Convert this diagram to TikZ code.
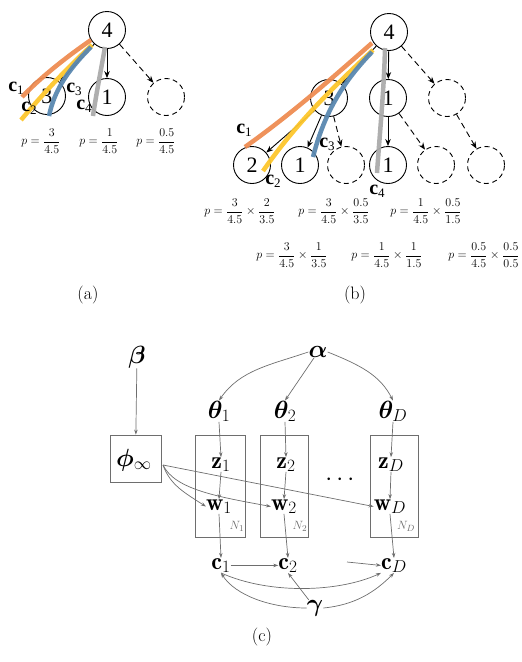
\documentclass[tikz,border=0pt]{standalone}
\usepackage{amsmath,bm}
\usepackage{fontspec}
\newfontfamily\tnr{Liberation Serif}
\usetikzlibrary{arrows.meta}
\definecolor{corange}{HTML}{EE8C52}
\definecolor{cyellow}{HTML}{FDC62C}
\definecolor{cblue}{HTML}{5A88B0}
\definecolor{cgray}{HTML}{ABABAB}
\definecolor{lgray}{HTML}{6E6E6E}
\newcommand\clabtxt[1]{c\raisebox{-0.35ex}{\mdseries\fontsize{13}{13}\selectfont #1}}
\begin{document}
\begin{tikzpicture}[x=1pt,y=-1pt,
  tnode/.style={circle,draw,line width=0.9pt,minimum size=37pt,inner sep=0pt,font=\tnr\fontsize{22}{22}\selectfont},
  dnode/.style={tnode,dash pattern=on 5pt off 3.5pt},
  tarrow/.style={-{Stealth[length=7pt,width=5.5pt]},line width=0.9pt},
  darrow/.style={tarrow,dash pattern=on 6pt off 4pt},
  hl/.style={line width=4.5pt,opacity=0.95},
  clab/.style={inner sep=0pt,font=\tnr\fontsize{20}{20}\selectfont\bfseries},
  plab/.style={inner sep=0pt,font=\fontsize{12.5}{14}\selectfont},
  captext/.style={inner sep=0pt,font=\fontsize{18}{20}\selectfont},
  sym/.style={inner sep=0pt,font=\fontsize{24}{27}\selectfont},
  garrow/.style={-{Stealth[length=5pt,width=3.5pt]},draw=lgray,line width=0.7pt},
  gbox/.style={draw=lgray,line width=0.8pt,inner sep=0pt}
]
\useasboundingbox (0,0) rectangle (522,662);

% ---------------- (a)
\node[tnode] (a4) at (107,30) {4};
\node[tnode] (a3) at (47,96) {3};
\node[tnode] (a1) at (107,97) {1};
\node[dnode] (ad) at (166,97) {};
\draw[tarrow] (a4) -- (a3);
\draw[tarrow] (a4) -- (a1);
\draw[darrow] (a4) -- (ad);
\coordinate (ao1) at (91,40); \coordinate (ao2) at (22,97);
\coordinate (ay1) at (92,45); \coordinate (ay2) at (21,120);
\coordinate (ab1) at (91,47); \coordinate (ab2) at (49,116);
\coordinate (ag1) at (105,47); \coordinate (ag2) at (93,116);
\draw[hl,draw=cgray] (ag1) .. controls (101,70) and (96,95) .. (ag2);
\draw[hl,draw=corange] (ao1) .. controls (65,58) and (40,78) .. (ao2);
\draw[hl,draw=cyellow] (ay1) .. controls (65,70) and (42,95) .. (ay2);
\draw[hl,draw=cblue] (ab1) .. controls (66,72) and (54,92) .. (ab2);
\node[clab] (ac1) at (16,88) {\clabtxt{1}};
\node[clab] (ac2) at (29,108) {\clabtxt{2}};
\node[clab] (ac3) at (74,89) {\clabtxt{3}};
\node[clab] (ac4) at (84,106) {\clabtxt{4}};
\node[plab] (ap1) at (41,141) {$\displaystyle p=\frac{3}{4.5}$};
\node[plab] (ap2) at (99,141) {$\displaystyle p=\frac{1}{4.5}$};
\node[plab] (ap3) at (156,141) {$\displaystyle p=\frac{0.5}{4.5}$};
\node[captext] (capa) at (88,295) {(a)};

% ---------------- (b)
\node[tnode] (b4) at (389,32) {4};
\node[tnode] (b3) at (329,98) {3};
\node[tnode] (b1) at (388,98) {1};
\node[dnode] (bd) at (447,98) {};
\node[tnode] (b2l) at (252,165) {2};
\node[tnode] (b1l) at (300,165) {1};
\node[dnode] (bdl) at (346,165) {};
\node[tnode] (b1m) at (388,165) {1};
\node[dnode] (bdm) at (436,165) {};
\node[dnode] (bdr) at (486,165) {};
\draw[tarrow] (b4) -- (b3);
\draw[tarrow] (b4) -- (b1);
\draw[darrow] (b4) -- (bd);
\draw[tarrow] (b3) -- (b2l);
\draw[tarrow] (b3) -- (b1l);
\draw[darrow] (b3) -- (bdl);
\draw[tarrow] (b1) -- (b1m);
\draw[darrow] (b1) -- (bdm);
\draw[darrow] (bd) -- (bdr);
\coordinate (bo1) at (372,43); \coordinate (bo2) at (245,147);
\coordinate (by1) at (373,50); \coordinate (by2) at (263,171);
\coordinate (bb1) at (372,52); \coordinate (bb2) at (313,157);
\coordinate (bg1) at (385,48); \coordinate (bg2) at (377,173);
\draw[hl,draw=cgray] (bg1) .. controls (384,90) and (380,130) .. (bg2);
\draw[hl,draw=corange] (bo1) .. controls (330,80) and (290,115) .. (bo2);
\draw[hl,draw=cyellow] (by1) .. controls (330,90) and (295,125) .. (by2);
\draw[hl,draw=cblue] (bb1) .. controls (345,80) and (325,110) .. (bb2);
\node[clab] (bc1) at (244,130) {\clabtxt{1}};
\node[clab] (bc2) at (273,181) {\clabtxt{2}};
\node[clab] (bc3) at (327,144) {\clabtxt{3}};
\node[clab] (bc4) at (377,191) {\clabtxt{4}};
\node[plab] (bp1) at (240,211) {$\displaystyle p=\frac{3}{4.5}\times\frac{2}{3.5}$};
\node[plab] (bp2) at (334,211) {$\displaystyle p=\frac{3}{4.5}\times\frac{0.5}{3.5}$};
\node[plab] (bp3) at (426,211) {$\displaystyle p=\frac{1}{4.5}\times\frac{0.5}{1.5}$};
\node[plab] (bp4) at (292,255) {$\displaystyle p=\frac{3}{4.5}\times\frac{1}{3.5}$};
\node[plab] (bp5) at (387,255) {$\displaystyle p=\frac{1}{4.5}\times\frac{1}{1.5}$};
\node[plab] (bp6) at (484,255) {$\displaystyle p=\frac{0.5}{4.5}\times\frac{0.5}{0.5}$};
\node[captext] (capb) at (355,295) {(b)};

% ---------------- (c)
\node[sym] (beta) at (137,357) {$\bm\beta$};
\node[sym] (alpha) at (318,352) {$\bm\alpha$};
\node[sym,anchor=base] (th1) at (219,418) {$\bm\theta_1$};
\node[sym,anchor=base] (th2) at (285,418) {$\bm\theta_2$};
\node[sym,anchor=base] (thD) at (393,418) {$\bm\theta_D$};
\node[gbox,minimum width=51pt,minimum height=47pt] (phi) at (135.5,458.5) {};
\node[sym,anchor=base] (phil) at (134,466) {$\bm\phi_\infty$};
\node[gbox,minimum width=50pt,minimum height=102pt] (pl1) at (220,486) {};
\node[gbox,minimum width=48pt,minimum height=102pt] (pl2) at (284,486) {};
\node[gbox,minimum width=48pt,minimum height=102pt] (plD) at (394,486) {};
\node[sym,anchor=base] (z1) at (221,468) {$\mathbf{z}_1$};
\node[sym,anchor=base] (z2) at (286,468) {$\mathbf{z}_2$};
\node[sym,anchor=base] (zD) at (391,468) {$\mathbf{z}_D$};
\node[sym,anchor=base] (w1) at (219,510) {$\mathbf{w}_1$};
\node[sym,anchor=base] (w2) at (284,510) {$\mathbf{w}_2$};
\node[sym,anchor=base] (wD) at (390,510) {$\mathbf{w}_D$};
\node[inner sep=0pt,font=\fontsize{13}{13}\selectfont,text=lgray] (N1) at (237,526) {$N_1$};
\node[inner sep=0pt,font=\fontsize{13}{13}\selectfont,text=lgray] (N2) at (300,526) {$N_2$};
\node[inner sep=0pt,font=\fontsize{13}{13}\selectfont,text=lgray] (ND) at (406,526) {$N_D$};
\node[sym] (dots) at (342,480) {$\cdots$};
\node[sym,anchor=base] (c1) at (221,569) {$\mathbf{c}_1$};
\node[sym,anchor=base] (c2) at (288,569) {$\mathbf{c}_2$};
\node[sym,anchor=base] (cD) at (394,569) {$\mathbf{c}_D$};
\node[sym] (gamma) at (315,608) {$\bm\gamma$};
\node[captext] (capc) at (262,637) {(c)};

\draw[garrow] (beta) -- (phi);
\draw[garrow] (alpha.west) .. controls (270,365) and (240,370) .. (th1.north);
\draw[garrow] (alpha) -- (th2.north);
\draw[garrow] (alpha.east) .. controls (360,365) and (380,375) .. (thD.north);
\draw[garrow] (th1.south) -- (z1.north);
\draw[garrow] (th2.south) -- (z2.north);
\draw[garrow] (thD.south) -- (zD.north);
\draw[garrow] (z1.south) -- (w1.north);
\draw[garrow] (z2.south) -- (w2.north);
\draw[garrow] (zD.south) -- (wD.north);
\draw[garrow] (w1.south) -- (c1.north);
\draw[garrow] (w2.south) -- (c2.north);
\draw[garrow] (wD.south) -- (cD.north);
\coordinate (phiout) at (163,465);
\draw[garrow] (phiout) .. controls (170,485) and (185,493) .. (w1.west);
\draw[garrow] (phiout) .. controls (175,490) and (220,497) .. (w2.west);
\draw[garrow] (phiout) -- (wD.west);
\draw[garrow] (c1.east) -- (c2.west);
\coordinate (cDin) at (347,562);
\draw[garrow] (cDin) -- (cD.west);
\draw[garrow] (c1.south) .. controls (270,595) and (340,592) .. (cD.south west);
\draw[garrow] (gamma.west) .. controls (270,608) and (235,595) .. (c1.south);
\draw[garrow] (gamma) -- (c2.south);
\draw[garrow] (gamma.east) .. controls (355,605) and (375,592) .. (cD.south);
\end{tikzpicture}
\end{document}
